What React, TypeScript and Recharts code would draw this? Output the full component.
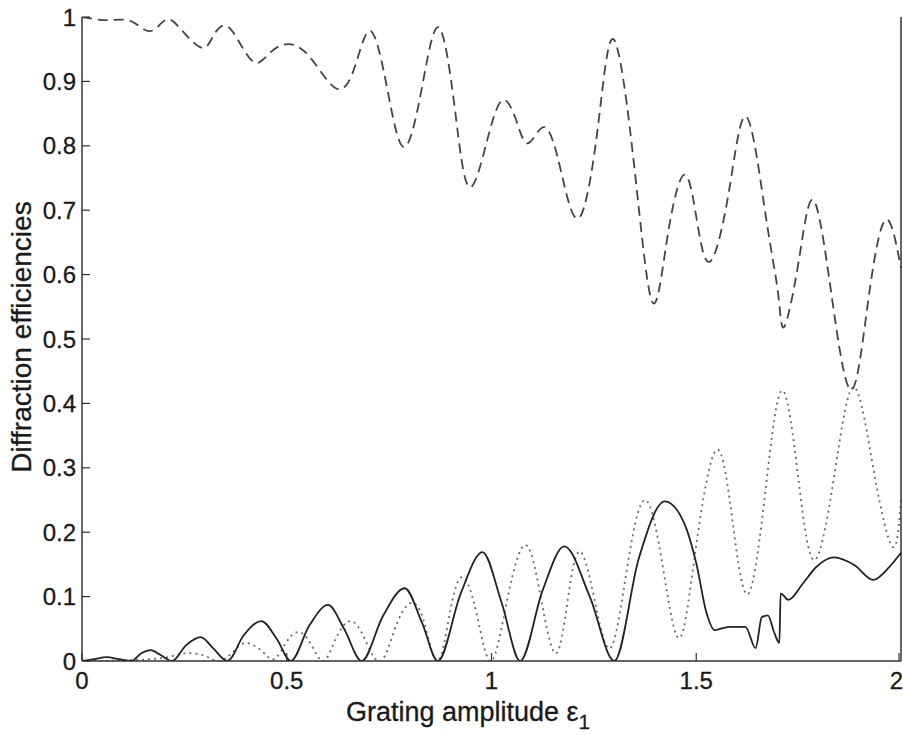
import React from 'react';
import { LineChart, Line, XAxis, YAxis, Customized } from 'recharts';

// Dashed curve (upper)
const dashedX = [0, 0.03, 0.06, 0.1, 0.13, 0.163, 0.19, 0.215, 0.25, 0.294, 0.32, 0.35, 0.385, 0.423, 0.46, 0.505, 0.56, 0.625, 0.67, 0.706, 0.745, 0.786, 0.83, 0.871, 0.91, 0.945, 0.99, 1.027, 1.06, 1.09, 1.13, 1.17, 1.214, 1.26, 1.299, 1.35, 1.393, 1.43, 1.47, 1.5, 1.533, 1.58, 1.623, 1.67, 1.7, 1.715, 1.75, 1.786, 1.83, 1.878, 1.92, 1.962, 2.0];
const dashedY = [1.0, 0.997, 0.995, 0.996, 0.99, 0.978, 0.988, 0.996, 0.975, 0.952, 0.97, 0.987, 0.96, 0.929, 0.945, 0.958, 0.935, 0.888, 0.93, 0.978, 0.89, 0.798, 0.89, 0.984, 0.86, 0.736, 0.81, 0.871, 0.84, 0.804, 0.829, 0.76, 0.688, 0.83, 0.965, 0.76, 0.557, 0.66, 0.755, 0.69, 0.62, 0.73, 0.845, 0.69, 0.57, 0.519, 0.62, 0.716, 0.57, 0.421, 0.56, 0.685, 0.61];

// Solid curve
const solidX = [0, 0.03, 0.06, 0.09, 0.12, 0.145, 0.168, 0.19, 0.22, 0.255, 0.29, 0.32, 0.355, 0.395, 0.438, 0.475, 0.51, 0.555, 0.601, 0.64, 0.683, 0.735, 0.788, 0.83, 0.869, 0.925, 0.978, 1.025, 1.07, 1.125, 1.178, 1.24, 1.3, 1.36, 1.423, 1.47, 1.5, 1.525, 1.545, 1.58, 1.62, 1.645, 1.66, 1.675, 1.69, 1.703, 1.706, 1.725, 1.76, 1.793, 1.837, 1.886, 1.932, 1.97, 2.0];
const solidY = [0, 0.003, 0.006, 0.003, 0, 0.012, 0.017, 0.01, 0, 0.025, 0.037, 0.02, 0, 0.04, 0.062, 0.035, 0, 0.055, 0.087, 0.05, 0, 0.07, 0.113, 0.06, 0, 0.105, 0.169, 0.09, 0, 0.11, 0.178, 0.1, 0, 0.16, 0.248, 0.215, 0.152, 0.075, 0.048, 0.053, 0.053, 0.02, 0.068, 0.071, 0.045, 0.028, 0.105, 0.095, 0.12, 0.146, 0.161, 0.149, 0.126, 0.145, 0.168];

// Dotted curve
const dottedX = [0, 0.1, 0.2, 0.25, 0.3, 0.335, 0.37, 0.4, 0.44, 0.47, 0.5, 0.53, 0.56, 0.59, 0.62, 0.655, 0.69, 0.73, 0.77, 0.81, 0.84, 0.87, 0.9, 0.93, 0.965, 1.0, 1.04, 1.083, 1.12, 1.156, 1.185, 1.214, 1.25, 1.29, 1.33, 1.375, 1.42, 1.46, 1.5, 1.55, 1.59, 1.628, 1.67, 1.71, 1.75, 1.79, 1.84, 1.886, 1.935, 1.98, 2.0];
const dottedY = [0, 0.001, 0.005, 0.012, 0.008, 0, 0.015, 0.028, 0.015, 0.003, 0.03, 0.045, 0.025, 0, 0.035, 0.062, 0.035, 0, 0.06, 0.09, 0.05, 0, 0.08, 0.13, 0.07, 0, 0.1, 0.18, 0.1, 0.012, 0.09, 0.17, 0.1, 0.02, 0.14, 0.25, 0.14, 0.036, 0.18, 0.328, 0.21, 0.105, 0.27, 0.42, 0.28, 0.157, 0.3, 0.425, 0.29, 0.177, 0.25];

const xTicks = [0, 0.5, 1, 1.5, 2];
const yTicks = [0, 0.1, 0.2, 0.3, 0.4, 0.5, 0.6, 0.7, 0.8, 0.9, 1];
const xLabel = 'Grating amplitude ε';
const xLabelSub = '1';
const yLabel = 'Diffraction efficiencies';

const toData = (xs: number[], ys: number[]) => xs.map((x, i) => ({ x, y: ys[i] }));
const dashedData = toData(dashedX, dashedY);
const solidData = toData(solidX, solidY);
const dottedData = toData(dottedX, dottedY);

const FONT = '"Liberation Sans", Arial, Helvetica, sans-serif';
const AXIS = '#333';
const TEXT = '#1a1a1a';
const TICK_FS = 24;
const fmt = (v: number) => String(v);

const LeftTick = (p: any) => (
  <g>
    <line x1={p.x} x2={p.x + 8} y1={p.y} y2={p.y} stroke={AXIS} strokeWidth={1.2} />
    <text x={p.x - 6} y={p.y} dy="0.36em" textAnchor="end" fontSize={TICK_FS} fontFamily={FONT} fill={TEXT} stroke={TEXT} strokeWidth={0.3}>
      {fmt(p.payload.value)}
    </text>
  </g>
);
const RightTick = (p: any) => (
  <line x1={p.x} x2={p.x - 8} y1={p.y} y2={p.y} stroke={AXIS} strokeWidth={1.2} />
);
const BottomTick = (p: any) => {
  const last = p.index === xTicks.length - 1;
  return (
    <g>
      <line x1={p.x} x2={p.x} y1={p.y} y2={p.y - 8} stroke={AXIS} strokeWidth={1.2} />
      <text x={last ? 903 : p.x} y={p.y + 28} textAnchor={last ? 'end' : 'middle'} fontSize={TICK_FS} fontFamily={FONT} fill={TEXT} stroke={TEXT} strokeWidth={0.3}>
        {fmt(p.payload.value)}
      </text>
    </g>
  );
};
const TopTick = (p: any) => (
  <line x1={p.x} x2={p.x} y1={p.y} y2={p.y + 8} stroke={AXIS} strokeWidth={1.2} />
);

const Labels = () => (
  <g fontFamily={FONT} fill={TEXT} stroke={TEXT} strokeWidth={0.3}>
    <text x={346} y={721} fontSize={27}>
      {xLabel}
      <tspan dy={8} fontSize={20}>{xLabelSub}</tspan>
    </text>
    <text x={31} y={337} fontSize={28} textAnchor="middle" transform="rotate(-90 31 337)">
      {yLabel}
    </text>
  </g>
);

export default function App() {
  return (
    <div style={{ position: 'absolute', left: 0, top: 0, background: '#fff' }}>
      <LineChart width={903} height={735} margin={{ top: 17, right: 0, bottom: 0, left: 0 }}>
        <XAxis
          dataKey="x"
          type="number"
          domain={[0, 2]}
          ticks={xTicks}
          height={74}
          tickSize={0}
          tickMargin={0}
          tickLine={false}
          axisLine={{ stroke: AXIS, strokeWidth: 1.5 }}
          tick={<BottomTick />}
        />
        <XAxis
          xAxisId="t"
          orientation="top"
          type="number"
          domain={[0, 2]}
          ticks={xTicks}
          height={0}
          tickSize={0}
          tickMargin={0}
          tickLine={false}
          axisLine={{ stroke: AXIS, strokeWidth: 1.5 }}
          tick={<TopTick />}
        />
        <YAxis
          type="number"
          domain={[0, 1]}
          ticks={yTicks}
          width={82}
          tickSize={0}
          tickMargin={0}
          tickLine={false}
          allowDataOverflow
          axisLine={{ stroke: AXIS, strokeWidth: 1.5 }}
          tick={<LeftTick />}
        />
        <YAxis
          yAxisId="r"
          orientation="right"
          type="number"
          domain={[0, 1]}
          ticks={yTicks}
          width={2}
          tickSize={0}
          tickMargin={0}
          tickLine={false}
          axisLine={{ stroke: AXIS, strokeWidth: 1.5 }}
          tick={<RightTick />}
        />
        <Line data={dottedData} dataKey="y" type="natural" stroke="#6a6a6a" strokeWidth={1.8} strokeDasharray="2 4" dot={false} isAnimationActive={false} />
        <Line data={dashedData} dataKey="y" type="natural" stroke="#444" strokeWidth={1.8} strokeDasharray="10 6" dot={false} isAnimationActive={false} />
        <Line data={solidData} dataKey="y" type="monotone" stroke="#222" strokeWidth={1.8} dot={false} isAnimationActive={false} />
        <Customized component={Labels} />
      </LineChart>
    </div>
  );
}
